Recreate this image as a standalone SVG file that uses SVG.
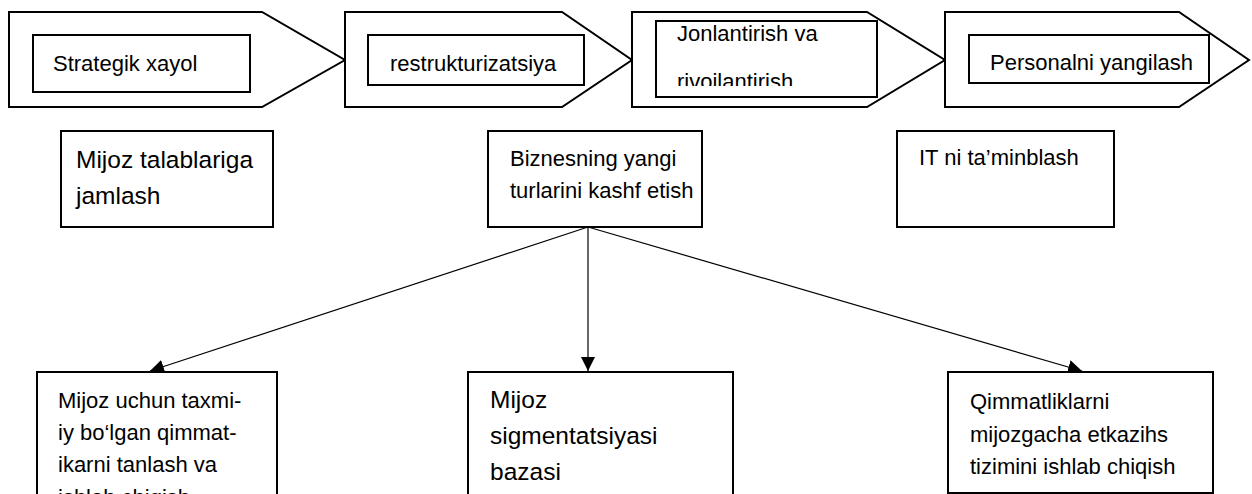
<svg xmlns="http://www.w3.org/2000/svg" width="1252" height="494" viewBox="0 0 1252 494">
<style>
.shape{fill:#fff;stroke:#000;stroke-width:2}
.t{font-family:"Liberation Sans",Arial,sans-serif;fill:#000}
.s22{font-size:22px}
.s25{font-size:24.5px}
.conn{stroke:#000;stroke-width:1.2;fill:none}
</style>
<defs>
<marker id="ah" viewBox="0 0 10 10" refX="10" refY="5" markerWidth="14" markerHeight="14" markerUnits="userSpaceOnUse" orient="auto">
<path d="M0,0 L10,5 L0,10 Z" fill="#000"/>
</marker>
<clipPath id="clip3"><rect x="656" y="20" width="221" height="66"/></clipPath>
</defs>
<g id="step1">
<polygon class="shape" points="9,12 262,12 345,60 262,107 9,107"/>
<rect class="shape" x="33" y="35" width="217" height="57"/>
<text class="t s22" x="53" y="71">Strategik xayol</text>
</g>
<g id="step2">
<polygon class="shape" points="345,12 562,12 632,60 562,107 345,107"/>
<rect class="shape" x="368" y="35" width="216" height="50"/>
<text class="t s22" x="390" y="71">restrukturizatsiya</text>
</g>
<g id="step3">
<polygon class="shape" points="632,12 867,12 945,60 867,107 632,107"/>
<rect class="shape" x="656" y="21" width="221" height="76"/>
<g clip-path="url(#clip3)">
<text class="t s22" x="677" y="41">Jonlantirish va</text>
<text class="t s22" x="677" y="89">rivojlantirish</text>
</g>
</g>
<g id="step4">
<polygon class="shape" points="945,12 1179,12 1249,60 1179,107 945,107"/>
<rect class="shape" x="969" y="35" width="240" height="48"/>
<text class="t s22" x="990" y="70">Personalni yangilash</text>
</g>
<g id="box-mijoz">
<rect class="shape" x="61" y="131" width="212" height="96"/>
<text class="t s25" x="76" y="168">Mijoz talablariga</text>
<text class="t s25" x="76" y="204">jamlash</text>
</g>
<g id="box-biznes">
<rect class="shape" x="488" y="131" width="214" height="96"/>
<text class="t s22" x="510" y="166">Biznesning yangi</text>
<text class="t s22" x="510" y="198">turlarini kashf etish</text>
</g>
<g id="box-it">
<rect class="shape" x="897" y="131" width="217" height="96"/>
<text class="t s22" x="919" y="165">IT ni ta’minblash</text>
</g>
<g id="connectors">
<line class="conn" x1="588" y1="227" x2="150" y2="371" marker-end="url(#ah)"/>
<line class="conn" x1="588" y1="227" x2="588" y2="371" stroke-width="2" marker-end="url(#ah)"/>
<line class="conn" x1="588" y1="227" x2="1082" y2="371" marker-end="url(#ah)"/>
</g>
<g id="box-tanlash">
<rect class="shape" x="37" y="372" width="240" height="140"/>
<text class="t s22" x="58" y="408">Mijoz uchun taxmi-</text>
<text class="t s22" x="58" y="440">iy bo‘lgan qimmat-</text>
<text class="t s22" x="58" y="472">ikarni tanlash va</text>
<text class="t s22" x="58" y="505">ishlab chiqish</text>
</g>
<g id="box-sigment">
<rect class="shape" x="468" y="372" width="265" height="140"/>
<text class="t s25" x="490" y="408">Mijoz</text>
<text class="t s25" x="490" y="444">sigmentatsiyasi</text>
<text class="t s25" x="490" y="480">bazasi</text>
</g>
<g id="box-qimmat">
<rect class="shape" x="948" y="372" width="265" height="121"/>
<text class="t s22" x="970" y="409">Qimmatliklarni</text>
<text class="t s22" x="970" y="442">mijozgacha etkazihs</text>
<text class="t s22" x="970" y="474">tizimini ishlab chiqish</text>
</g>
</svg>
